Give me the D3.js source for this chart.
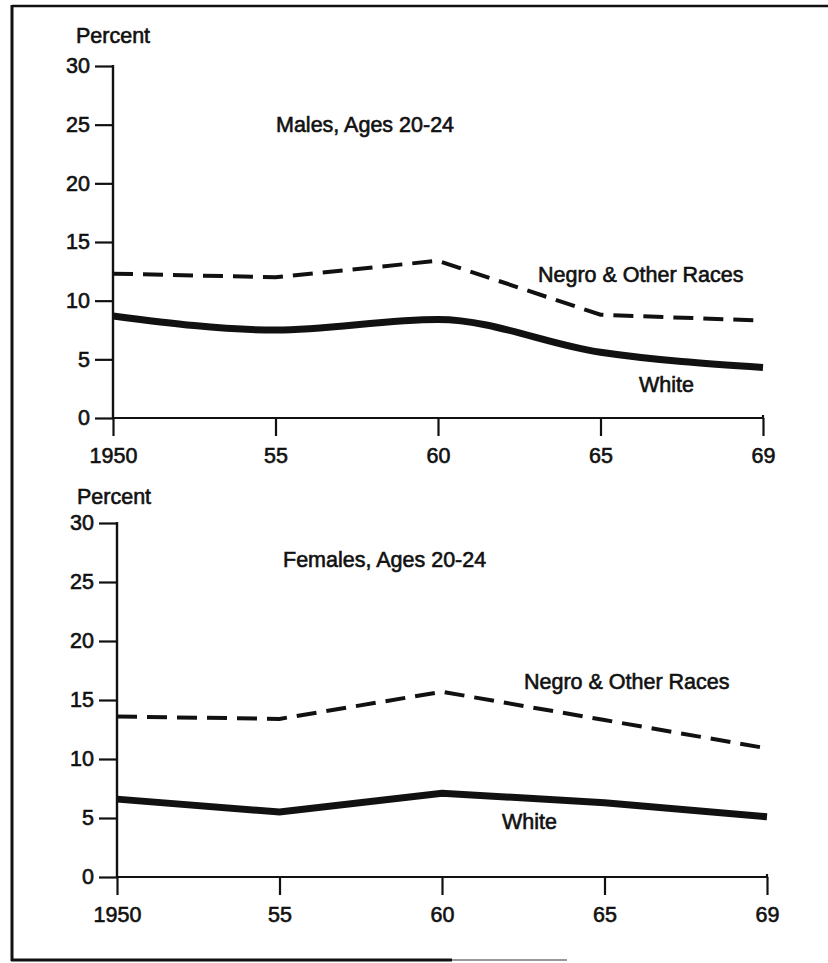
<!DOCTYPE html>
<html>
<head>
<meta charset="utf-8">
<script src="https://cdn.jsdelivr.net/npm/d3@7"></script>
<style>
  body { margin: 0; background: #fff; }
  svg { display: block; }
  text { font-family: "Liberation Sans", Arial, sans-serif; fill: #111; stroke: #111; stroke-width: 0.6px; }
</style>
</head>
<body>
<svg id="chart" width="828" height="963"></svg>
<script>
// year labels on the x axis (equally spaced in the original)
const years = ["1950", "55", "60", "65", "69"];
const yTicks = [0, 5, 10, 15, 20, 25, 30];

// unemployment rates, percent
const maleNegro = [12.3, 12.0, 13.4, 8.8, 8.3];
const maleWhite = [8.7, 7.5, 8.4, 5.6, 4.3];
const femaleNegro = [13.6, 13.4, 15.7, 13.3, 10.9];
const femaleWhite = [6.6, 5.5, 7.1, 6.3, 5.1];

const svg = d3.select('#chart');

// page frame (scanned page edge)
svg.append('line').attr('x1', 12).attr('y1', 6).attr('x2', 828).attr('y2', 6)
    .style('stroke', '#111').style('stroke-width', 2.5);
svg.append('line').attr('x1', 12).attr('y1', 5).attr('x2', 12).attr('y2', 961)
    .style('stroke', '#111').style('stroke-width', 3);
svg.append('line').attr('x1', 11).attr('y1', 960).attr('x2', 452).attr('y2', 960)
    .style('stroke', '#111').style('stroke-width', 3);
svg.append('line').attr('x1', 452).attr('y1', 960).attr('x2', 567).attr('y2', 960)
    .style('stroke', '#999').style('stroke-width', 2);

const panels = [
    {
        title: 'Males, Ages 20-24', negro: maleNegro, white: maleWhite,
        x0: 113, x1: 763, yTop: 66, yBottom: 418,
        percentPos: [76, 43], titlePos: [276, 132],
        negroPos: [538, 282], whitePos: [639, 392],
        whiteCurve: d3.curveMonotoneX
    },
    {
        title: 'Females, Ages 20-24', negro: femaleNegro, white: femaleWhite,
        x0: 117, x1: 767, yTop: 523, yBottom: 877,
        percentPos: [77, 504], titlePos: [283, 567],
        negroPos: [524, 689], whitePos: [502, 829],
        whiteCurve: d3.curveLinear
    }
];

panels.forEach(p => {
    const x = d3.scalePoint().domain(years).range([p.x0, p.x1]);
    const y = d3.scaleLinear().domain([0, 30]).range([p.yBottom, p.yTop]);
    const g = svg.append('g');

    // y axis
    const yAxis = g.append('g')
        .attr('transform', `translate(${p.x0},0)`)
        .call(d3.axisLeft(y).tickValues(yTicks).tickSize(18).tickPadding(5));
    yAxis.select('.domain').remove();

    // x axis
    const xAxis = g.append('g')
        .attr('transform', `translate(0,${p.yBottom})`)
        .call(d3.axisBottom(x).tickSize(18).tickPadding(12));
    xAxis.select('.domain').remove();

    g.selectAll('.tick line').style('stroke', '#111').style('stroke-width', 2.2);
    g.selectAll('.tick text').style('font-size', '21.5px');

    // axis lines
    g.append('line').attr('x1', p.x0).attr('x2', p.x0)
        .attr('y1', y(30) - 1).attr('y2', y(0))
        .style('stroke', '#111').style('stroke-width', 2.4);
    g.append('line').attr('x1', p.x0).attr('x2', p.x1 + 1)
        .attr('y1', y(0)).attr('y2', y(0))
        .style('stroke', '#111').style('stroke-width', 2.2);
    // small hook at the right end of the x axis
    g.append('line').attr('x1', p.x1).attr('x2', p.x1)
        .attr('y1', y(0) - 3).attr('y2', y(0) + 1)
        .style('stroke', '#111').style('stroke-width', 2.2);

    // series lines
    const line = d3.line()
        .x((d, i) => x(years[i]))
        .y(d => y(d));

    g.append('path')
        .datum(p.negro)
        .attr('d', line.curve(d3.curveLinear))
        .style('fill', 'none')
        .style('stroke', '#111')
        .style('stroke-width', 4)
        .style('stroke-dasharray', '20,10');

    g.append('path')
        .datum(p.white)
        .attr('d', line.curve(p.whiteCurve))
        .style('fill', 'none')
        .style('stroke', '#111')
        .style('stroke-width', 7);

    // labels
    const label = (pos, txt) => g.append('text')
        .attr('x', pos[0]).attr('y', pos[1])
        .style('font-size', '21.5px')
        .text(txt);
    label(p.percentPos, 'Percent');
    label(p.titlePos, p.title);
    label(p.negroPos, 'Negro & Other Races');
    label(p.whitePos, 'White');
});
</script>
</body>
</html>
